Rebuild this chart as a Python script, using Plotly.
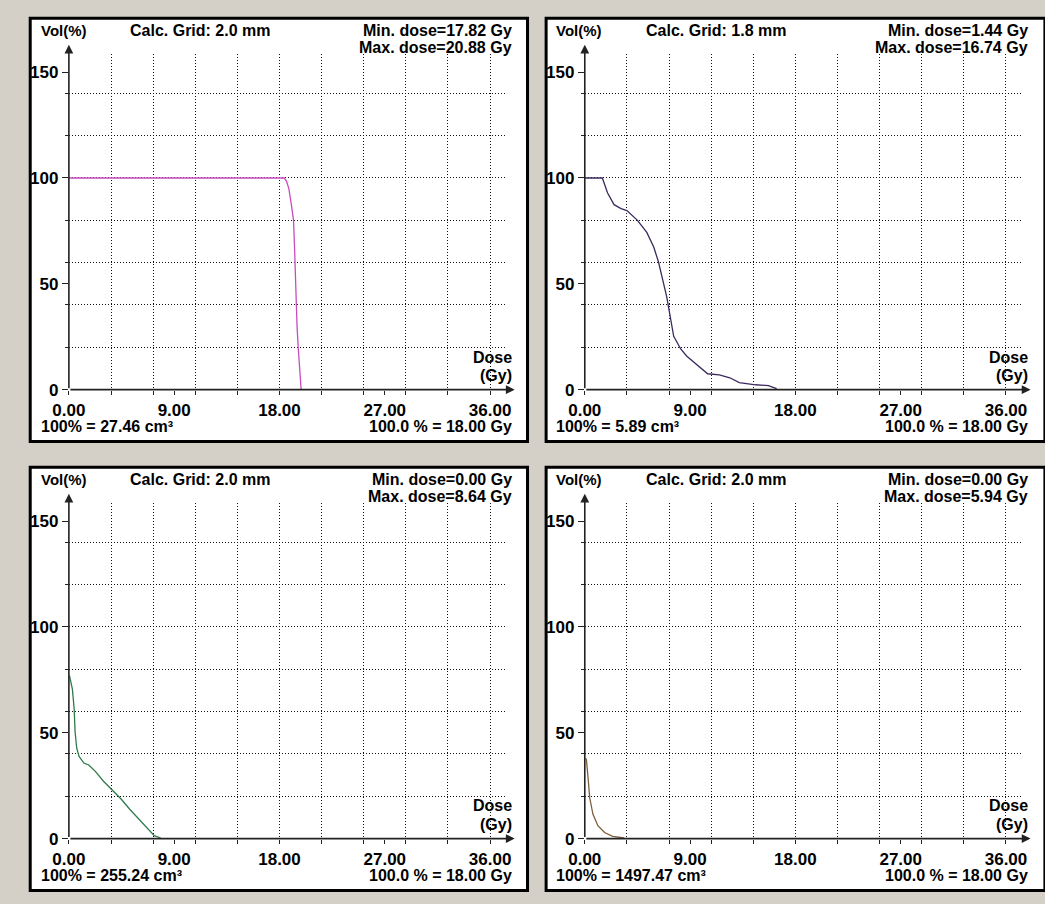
import plotly.graph_objects as go

# ---------------- data ----------------
dose_tl = [0.0, 18.0, 18.4, 18.6, 18.8, 19.0, 19.2, 19.3, 19.4, 19.5, 19.6, 19.75, 19.85]
vol_tl = [100, 100, 100, 98.5, 95, 88, 80, 65, 45, 30, 20, 8, 0]

dose_tr = [0.0, 1.5, 1.94, 2.5, 3.1, 3.6, 4.5, 5.3, 5.9, 6.3, 6.6, 7.0, 7.6, 8.2, 8.7,
           9.5, 10.5, 11.5, 12.4, 13.2, 14.6, 15.7, 16.3, 16.4]
vol_tr = [100, 100, 93, 87.4, 85.5, 84.6, 80, 74.3, 67.3, 60.3, 53.3, 44, 25.2, 19.2, 15.9,
          12.1, 7.5, 7.0, 5.6, 3.3, 2.3, 1.9, 0.9, 0.5]

dose_bl = [0.05, 0.3, 0.45, 0.53, 0.67, 0.87, 1.28, 1.7, 2.26, 2.96, 3.66, 4.5, 5.2,
           6.0, 6.7, 7.3, 7.85]
vol_bl = [77, 70.6, 61.4, 50.5, 42.7, 38.8, 35.7, 34.8, 31.8, 27.1, 23.2, 18.5, 13.9,
          9.2, 5.0, 1.4, 0.3]

dose_br = [0.08, 0.14, 0.28, 0.42, 0.7, 1.12, 1.69, 2.39, 3.37]
vol_br = [38, 37.2, 28.7, 19.3, 11.5, 6.1, 2.9, 1.1, 0.3]

grid_labels = ["Calc. Grid: 2.0 mm", "Calc. Grid: 1.8 mm", "Calc. Grid: 2.0 mm", "Calc. Grid: 2.0 mm"]
min_labels = ["Min. dose=17.82 Gy", "Min. dose=1.44 Gy", "Min. dose=0.00 Gy", "Min. dose=0.00 Gy"]
max_labels = ["Max. dose=20.88 Gy", "Max. dose=16.74 Gy", "Max. dose=8.64 Gy", "Max. dose=5.94 Gy"]
volume_labels = ["100% = 27.46 cm³", "100% = 5.89 cm³", "100% = 255.24 cm³", "100% = 1497.47 cm³"]
ref_label = "100.0 % = 18.00 Gy"

x_tick_vals = [0, 9, 18, 27, 36]
x_tick_text = ["0.00", "9.00", "18.00", "27.00", "36.00"]
x_grid_vals = [3.6, 7.2, 10.8, 14.4, 18.0, 21.6, 25.2, 28.8, 32.4, 36.0]
y_tick_vals = [0, 50, 100, 150]
y_tick_text = ["0", "50", "100", "150"]
y_grid_vals = [20, 40, 60, 80, 100, 120, 140]

series = [(dose_tl, vol_tl, "#c84cc0"),
          (dose_tr, vol_tr, "#3c2a5e"),
          (dose_bl, vol_bl, "#2f7a4a"),
          (dose_br, vol_br, "#7d5e3c")]

# ---------------- layout helpers ----------------
W, H = 1045, 904
FONT = "Liberation Sans"


def px(x):
    return x / W


def py(y):
    return 1 - y / H


offsets = [(0, 0), (527, 0), (0, 454), (527, 454)]
X_MAX = 37.4
Y_MAX = 158.4

fig = go.Figure()
shapes = []
annotations = []
layout = {}

for i, ((dx, dy), (xs, ys, col)) in enumerate(zip(offsets, series)):
    n = "" if i == 0 else str(i + 1)
    xa = "x" + n
    ya = "y" + n
    right_edge = 521.5 if dx == 0 else 1050
    shapes.append(dict(type="rect", xref="paper", yref="paper",
                       x0=px(13.5 + dx), x1=px(right_edge),
                       y0=py(446.5 + dy), y1=py(18.5 + dy),
                       line=dict(color="black", width=3), fillcolor="white", layer="below"))
    fig.add_trace(go.Scatter(x=xs, y=ys, mode="lines", xaxis=xa, yaxis=ya,
                             line=dict(color=col, width=1.3), showlegend=False,
                             hoverinfo="skip"))
    x0p, x1p = 53 + dx, 500 + dx
    yb, yt = 394 + dy, 55 + dy
    layout["xaxis" + n] = dict(
        domain=[px(x0p), px(x1p)], range=[0, X_MAX], anchor=ya,
        tickmode="array", tickvals=x_tick_vals, ticktext=x_tick_text,
        ticks="outside", ticklen=4, tickcolor="#222", tickwidth=1,
        showgrid=False, zeroline=False, showline=False,
        tickfont=dict(family=FONT, size=17, color="black", weight="bold"),
        ticklabelstandoff=1,
        minor=dict(tickvals=x_grid_vals, ticks="outside", ticklen=4, tickcolor="#222",
                   showgrid=True, gridcolor="#111", gridwidth=1, griddash="1px,2px"),
        fixedrange=True,
    )
    layout["yaxis" + n] = dict(
        domain=[py(yb), py(yt)], range=[0, Y_MAX], anchor=xa,
        tickmode="array", tickvals=y_tick_vals, ticktext=y_tick_text,
        ticks="outside", ticklen=6, tickcolor="#222", tickwidth=1,
        showgrid=False, zeroline=False, showline=False,
        tickfont=dict(family=FONT, size=17, color="black", weight="bold"),
        ticklabelstandoff=0,
        minor=dict(tickvals=y_grid_vals, ticks="outside", ticklen=3, tickcolor="#222",
                   showgrid=True, gridcolor="#111", gridwidth=1, griddash="1px,2px"),
        fixedrange=True,
    )
    annotations.append(dict(x=38.1, y=0, ax=0, ay=0, xref=xa, yref=ya, axref=xa, ayref=ya,
                            text="", showarrow=True, arrowhead=2, arrowsize=1.1,
                            arrowwidth=1.6, arrowcolor="#222"))
    annotations.append(dict(x=0, y=163, ax=0, ay=0, xref=xa, yref=ya, axref=xa, ayref=ya,
                            text="", showarrow=True, arrowhead=2, arrowsize=1.1,
                            arrowwidth=1.6, arrowcolor="#222"))

    def txt(t, x, y, anchor, size=16):
        annotations.append(dict(text=t, x=px(x), y=py(y), xref="paper", yref="paper",
                                xanchor=anchor, yanchor="middle", showarrow=False,
                                font=dict(family=FONT, size=size, color="black", weight="bold")))

    txt("Vol(%)", 22 + dx, 31 + dy, "left", 15)
    txt(grid_labels[i], 113 + dx, 31 + dy, "left")
    txt(min_labels[i], 508 + dx, 31 + dy, "right")
    txt(max_labels[i], 508 + dx, 48 + dy, "right")
    txt("Dose", 508 + dx, 361 + dy, "right")
    txt("(Gy)", 508 + dx, 380 + dy, "right")
    txt(volume_labels[i], 22 + dx, 431 + dy, "left")
    txt(ref_label, 508 + dx, 431 + dy, "right")

fig.update_layout(
    width=W, height=H, autosize=False,
    margin=dict(l=0, r=0, t=0, b=0),
    paper_bgcolor="#d4d0c8", plot_bgcolor="rgba(0,0,0,0)",
    shapes=shapes, annotations=annotations, showlegend=False,
    **layout,
)

fig.write_html("out.html", config={"displayModeBar": False},
               post_script="document.body.style.margin='0';document.body.style.overflow='hidden';")
